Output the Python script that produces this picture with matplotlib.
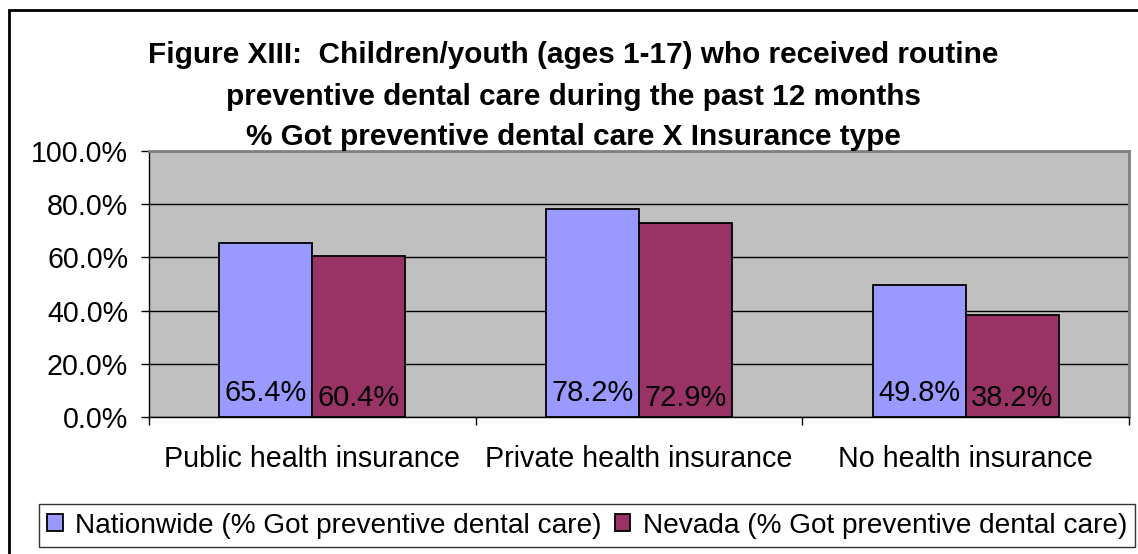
import numpy as np
import matplotlib.pyplot as plt
from matplotlib.patches import Rectangle

plt.rcParams['font.family'] = ['Liberation Sans', 'DejaVu Sans']

# данные
categories = ['Public health insurance', 'Private health insurance', 'No health insurance']
nationwide = [65.4, 78.2, 49.8]
nevada = [60.4, 72.9, 38.2]
series_names = ['Nationwide (% Got preventive dental care)',
                'Nevada (% Got preventive dental care)']
title_lines = ['Figure XIII:  Children/youth (ages 1-17) who received routine',
               'preventive dental care during the past 12 months',
               '% Got preventive dental care X Insurance type']
yticks = [0, 20, 40, 60, 80, 100]

W, H = 1138, 554
FS = 20.6
fig = plt.figure(figsize=(W / 100, H / 100), dpi=100)
ax = fig.add_axes([149 / W, 1 - 417 / H, (1129 - 149) / W, (417 - 151) / H])
ax.set_facecolor('#C0C0C0')

x = np.arange(len(categories))
bw = 0.285
b1 = ax.bar(x - bw / 2, nationwide, bw, color='#9999FF', edgecolor='black',
            linewidth=1.3, label=series_names[0], zorder=3)
b2 = ax.bar(x + bw / 2, nevada, bw, color='#993366', edgecolor='black',
            linewidth=1.3, label=series_names[1], zorder=3)

# подписи значений внизу столбцов
for i in range(len(categories)):
    ax.text(x[i] - bw / 2, 9.0, f'{nationwide[i]:.1f}%', ha='center', va='center',
            fontsize=FS + 0.3, zorder=4)
    ax.text(x[i] + bw / 2, 7.2, f'{nevada[i]:.1f}%', ha='center', va='center',
            fontsize=FS + 0.3, zorder=4)

ax.set_xlim(-0.5, len(categories) - 0.5)
ax.set_ylim(0, 100)
ax.set_yticks(yticks)
ax.set_yticklabels([f'{v:.1f}%' for v in yticks], fontsize=FS)
ax.tick_params(axis='y', length=6, width=1, pad=9)
ax.yaxis.grid(True, color='black', linewidth=1)
ax.set_axisbelow(True)

ax.set_xticks(x)
ax.set_xticklabels(categories, fontsize=FS)
ax.tick_params(axis='x', which='major', length=0, pad=20)
ax.set_xticks(np.arange(len(categories) + 1) - 0.5, minor=True)
ax.tick_params(axis='x', which='minor', length=6, width=1)

for s in ['top', 'right']:
    ax.spines[s].set_color('#808080')
    ax.spines[s].set_linewidth(2)
for s in ['left', 'bottom']:
    ax.spines[s].set_color('black')
    ax.spines[s].set_linewidth(1)

# заголовок
for line, yy in zip(title_lines, [55, 97, 137]):
    fig.text(573 / W, 1 - yy / H, line, ha='center', va='center',
             fontsize=21.4, fontweight='bold')

# легенда
leg = fig.legend(handles=[b1, b2], loc='lower left',
                 bbox_to_anchor=(39 / W, 7 / H), ncol=2, fontsize=20.2,
                 frameon=True, fancybox=False, handlelength=0.55,
                 handleheight=0.55, handletextpad=0.45, columnspacing=0.45,
                 borderpad=0.3, borderaxespad=0)
leg.get_frame().set_edgecolor('black')
leg.get_frame().set_linewidth(1)

# внешняя рамка
fig.patches.append(Rectangle((9 / W, -0.1), 1.1, 1 - 10 / H + 0.1,
                             transform=fig.transFigure, fill=False,
                             edgecolor='black', linewidth=2))

fig.savefig('out.png', dpi=100)
